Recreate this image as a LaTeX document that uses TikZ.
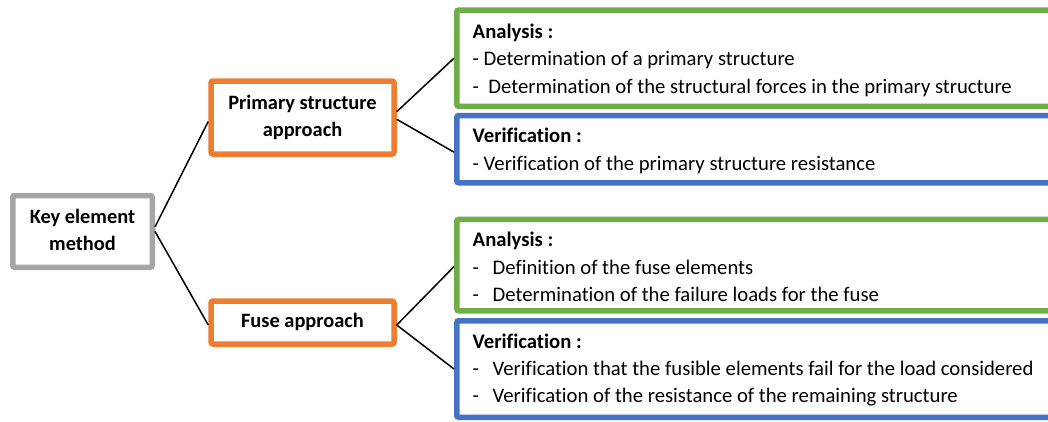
\documentclass[tikz,border=0pt]{standalone}
\usepackage{fontspec}
\setmainfont{Carlito}[Ligatures=NoCommon]
\definecolor{keygray}{HTML}{A5A5A5}
\definecolor{apporange}{HTML}{ED7D31}
\definecolor{anagreen}{HTML}{70AD47}
\definecolor{verblue}{HTML}{4472C4}
\tikzset{
  box/.style={draw, line width=5.5pt, rounded corners=2pt, fill=white,
              inner sep=0pt, align=center,
              font=\fontsize{20.4}{27.3}\selectfont\bfseries},
  keybox/.style={box, draw=keygray},
  appbox/.style={box, draw=apporange},
  anabox/.style={box, draw=anagreen},
  verbox/.style={box, draw=verblue},
  txt/.style={anchor=north west, inner sep=0pt, align=left,
              font=\fontsize{20.7}{27.3}\selectfont},
  link/.style={draw=black, line width=1.5pt}
}
\newcommand{\dashitem}{\makebox[20pt][l]{-}}
\begin{document}
\begin{tikzpicture}[x=1pt, y=-1pt]
\useasboundingbox (0,0) rectangle (1048,421);
\clip (0,0) rectangle (1048,421);

% root and the two approaches
\node[keybox, minimum width=139.5pt, minimum height=71.8pt] (key) at (82.5,231.4)
  {\strut Key element\\\strut method};
\node[appbox, minimum width=183pt, minimum height=73pt] (prim) at (302.5,117.5)
  {\strut Primary structure\\\strut approach};
\node[appbox, minimum width=183pt, minimum height=43pt] (fuse) at (302.5,322.5)
  {\strut Fuse approach};

% analysis / verification boxes (they run on past the right edge)
\node[anabox, minimum width=640pt, minimum height=96.3pt] (pa) at (776.75,58.15) {};
\node[verbox, minimum width=640pt, minimum height=67.3pt] (pv) at (776.75,149.15) {};
\node[anabox, minimum width=640pt, minimum height=91.3pt] (fa) at (776.75,265.1) {};
\node[verbox, minimum width=640pt, minimum height=96.5pt] (fv) at (776.75,369) {};

% box contents
\node[txt] (pat) at (472.5,19.2)
  {\strut\textbf{Analysis :}\\
   - Determination of a primary structure\\
   -\hspace{9.3pt}Determination of the structural forces in the primary structure};
\node[txt] (pvt) at (472.5,123.6)
  {\strut\textbf{Verification :}\\
   - Verification of the primary structure resistance};
\node[txt] (fat) at (472.5,227.6)
  {\strut\textbf{Analysis :}\\
   \dashitem Definition of the fuse elements\\
   \dashitem Determination of the failure loads for the fuse};
\node[txt] (fvt) at (472.5,328.9)
  {\strut\textbf{Verification :}\\
   \dashitem Verification that the fusible elements fail for the load considered\\
   \dashitem Verification of the resistance of the remaining structure};

% connectors
\draw[link] ([yshift=4.5pt]key.east) -- ([yshift=-4pt]prim.west);
\draw[link] (key.east) -- ([yshift=-2.5pt]fuse.west);
\draw[link] ([yshift=5.8pt]prim.east) -- (pa.west);
\draw[link] ([yshift=-1.8pt]prim.east) -- ([yshift=-3pt]pv.west);
\draw[link] ([yshift=-2.5pt]fuse.east) -- ([yshift=-1.5pt]fa.west);
\draw[link] ([yshift=-2.5pt]fuse.east) -- (fv.west);
\end{tikzpicture}
\end{document}
